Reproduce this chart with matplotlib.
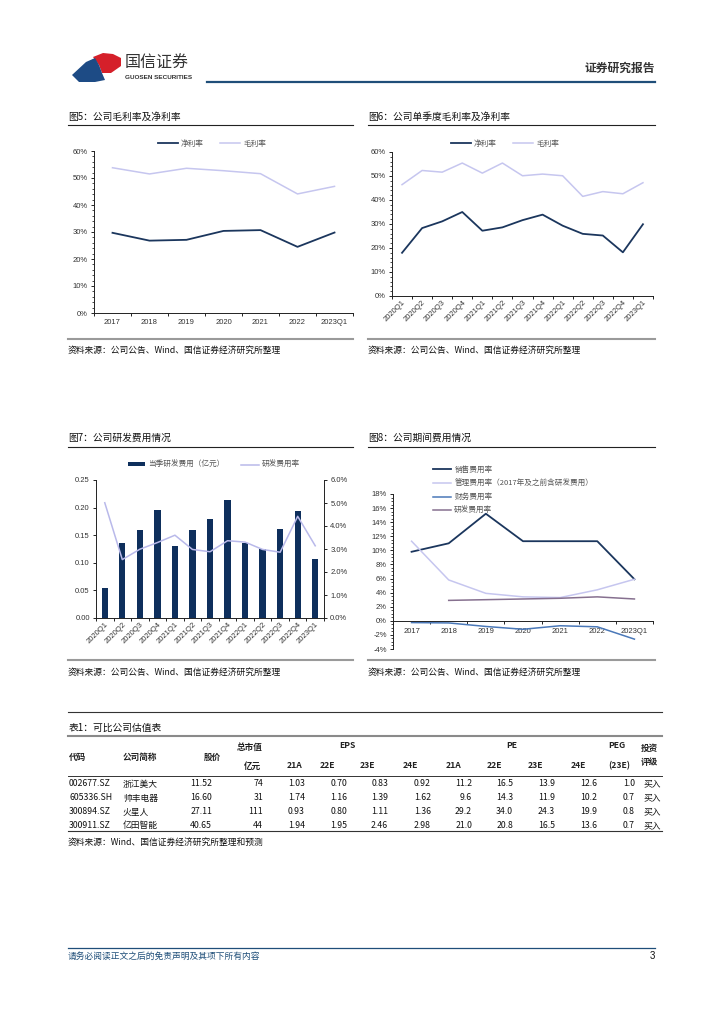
import matplotlib
matplotlib.use('Agg')
import matplotlib.pyplot as plt
from matplotlib.ticker import FuncFormatter, MultipleLocator, FixedLocator
from matplotlib.patches import Polygon
import numpy as np

plt.rcParams['font.family'] = ['Noto Sans CJK SC', 'DejaVu Sans']
plt.rcParams['axes.unicode_minus'] = False

# --- DATA ---
years = ['2017', '2018', '2019', '2020', '2021', '2022', '2023Q1']
net_margin_y = [29.7, 26.8, 27.1, 30.4, 30.7, 24.5, 29.8]
gross_margin_y = [53.8, 51.5, 53.6, 52.7, 51.6, 44.1, 46.9]

quarters = ['2020Q1', '2020Q2', '2020Q3', '2020Q4', '2021Q1', '2021Q2', '2021Q3',
            '2021Q4', '2022Q1', '2022Q2', '2022Q3', '2022Q4', '2023Q1']
net_margin_q = [18.0, 28.3, 31.1, 35.0, 27.2, 28.6, 31.6, 33.9, 29.3, 25.9, 25.2, 18.2, 29.9]
gross_margin_q = [46.4, 52.3, 51.6, 55.4, 51.2, 55.4, 50.1, 50.8, 50.1, 41.5, 43.5, 42.6, 47.2]

rd_expense_q = [0.055, 0.135, 0.159, 0.195, 0.131, 0.160, 0.179, 0.213, 0.136, 0.125, 0.162, 0.194, 0.107]
rd_ratio_q = [5.01, 2.54, 2.99, 3.28, 3.60, 2.98, 2.88, 3.36, 3.30, 2.98, 2.86, 4.42, 3.14]

sales_ratio = [9.8, 11.0, 15.2, 11.3, 11.3, 11.3, 5.9]
admin_ratio = [11.3, 5.8, 3.9, 3.4, 3.3, 4.4, 5.9]
fin_ratio = [-0.25, -0.3, -0.8, -1.2, -0.7, -0.85, -2.6]
rd_ratio_y = [np.nan, 2.9, 3.0, 3.1, 3.2, 3.4, 3.1]

codes = ['002677.SZ', '605336.SH', '300894.SZ', '300911.SZ']
names = ['浙江美大', '帅丰电器', '火星人', '亿田智能']
prices = [11.52, 16.60, 27.11, 40.65]
mkt_cap = [74, 31, 111, 44]
eps = [[1.03, 0.70, 0.83, 0.92],
       [1.74, 1.16, 1.39, 1.62],
       [0.93, 0.80, 1.11, 1.36],
       [1.94, 1.95, 2.46, 2.98]]
pe = [[11.2, 16.5, 13.9, 12.6],
      [9.6, 14.3, 11.9, 10.2],
      [29.2, 34.0, 24.3, 19.9],
      [21.0, 20.8, 16.5, 13.6]]
peg = [1.0, 0.7, 0.8, 0.7]
ratings = ['买入', '买入', '买入', '买入']
eps_cols = ['21A', '22E', '23E', '24E']
pe_cols = ['21A', '22E', '23E', '24E']

# --- STYLE ---
W, H = 724, 1024
NAVY = '#1b365d'
LAV = '#c6c6ef'
BAR = '#0e2f5c'
FINB = '#4a78b8'
RDP = '#86708f'
GRAY_TXT = '#333333'
TICK_FONT = 'Liberation Sans'

fig = plt.figure(figsize=(W / 100, H / 100), dpi=100)
page = fig.add_axes([0, 0, 1, 1], zorder=-5)
page.set_xlim(0, W)
page.set_ylim(H, 0)
page.axis('off')


def ax_at(l, t, r, b):
    return fig.add_axes([l / W, 1 - b / H, (r - l) / W, (b - t) / H])


def fx(x):
    return x / W


def fy(y):
    return 1 - y / H


def base_style(ax, n, minor_y):
    for s in ['top', 'right']:
        ax.spines[s].set_visible(False)
    for s in ['left', 'bottom']:
        ax.spines[s].set_linewidth(0.7)
        ax.spines[s].set_color('#222222')
    ax.set_xlim(-0.5, n - 0.5)
    ax.set_xticks(np.arange(n))
    ax.xaxis.set_minor_locator(FixedLocator(np.arange(n + 1) - 0.5))
    ax.yaxis.set_minor_locator(MultipleLocator(minor_y))
    ax.tick_params(axis='x', which='major', length=0, labelsize=5.5, pad=4,
                   labelfontfamily=TICK_FONT, labelcolor=GRAY_TXT)
    ax.tick_params(axis='x', which='minor', length=2, width=0.6, direction='out')
    ax.tick_params(axis='y', which='major', length=2.5, width=0.6, labelsize=5.5, pad=2,
                   labelfontfamily=TICK_FONT, labelcolor=GRAY_TXT)
    ax.tick_params(axis='y', which='minor', length=1.5, width=0.5)


pct0 = FuncFormatter(lambda v, p: f'{v:.0f}%')
leg_kw = dict(frameon=False, fontsize=5.5, handletextpad=0.4, labelcolor='#555555',
              bbox_transform=fig.transFigure)

# --- Chart 1: annual margins ---
ax1 = ax_at(94, 151, 353, 313)
x1 = np.arange(len(years))
ax1.plot(x1, net_margin_y, color=NAVY, lw=1.3, label='净利率')
ax1.plot(x1, gross_margin_y, color=LAV, lw=1.1, label='毛利率')
base_style(ax1, len(years), 2)
ax1.set_ylim(0, 60)
ax1.yaxis.set_major_locator(MultipleLocator(10))
ax1.yaxis.set_major_formatter(pct0)
ax1.set_xticklabels(years)
ax1.legend(ncol=2, loc='center', bbox_to_anchor=(fx(212), fy(144)),
           handlelength=2.6, columnspacing=2.2, **leg_kw)

# --- Chart 2: quarterly margins ---
ax2 = ax_at(392, 152, 653, 296)
x2 = np.arange(len(quarters))
ax2.plot(x2, net_margin_q, color=NAVY, lw=1.3, label='净利率')
ax2.plot(x2, gross_margin_q, color=LAV, lw=1.1, label='毛利率')
base_style(ax2, len(quarters), 2)
ax2.set_ylim(0, 60)
ax2.yaxis.set_major_locator(MultipleLocator(10))
ax2.yaxis.set_major_formatter(pct0)
ax2.set_xticklabels(quarters, rotation=45, ha='right', rotation_mode='anchor')
ax2.tick_params(axis='x', which='major', pad=2)
ax2.legend(ncol=2, loc='center', bbox_to_anchor=(fx(505), fy(144)),
           handlelength=2.6, columnspacing=2.2, **leg_kw)

# --- Chart 3: R&D expense ---
ax3 = ax_at(96, 480, 324, 618)
x3 = np.arange(len(quarters))
bars = ax3.bar(x3, rd_expense_q, width=0.36, color=BAR, label='当季研发费用（亿元）')
base_style(ax3, len(quarters), 0.05)
ax3.set_ylim(0, 0.25)
ax3.yaxis.set_major_locator(MultipleLocator(0.05))
ax3.yaxis.set_major_formatter(FuncFormatter(lambda v, p: f'{v:.2f}'))
ax3.set_xticklabels(quarters, rotation=45, ha='right', rotation_mode='anchor')
ax3.tick_params(axis='x', which='major', pad=2)
ax3r = ax3.twinx()
ln, = ax3r.plot(x3, rd_ratio_q, color='#b9b9ea', lw=1.1, label='研发费用率')
ax3r.set_ylim(0, 6)
ax3r.yaxis.set_major_locator(MultipleLocator(1))
ax3r.yaxis.set_major_formatter(FuncFormatter(lambda v, p: f'{v:.1f}%'))
for s in ['top', 'left', 'bottom']:
    ax3r.spines[s].set_visible(False)
ax3r.spines['right'].set_linewidth(0.7)
ax3r.spines['right'].set_color('#222222')
ax3r.tick_params(axis='y', length=2.5, width=0.6, labelsize=5.5, pad=2,
                 labelfontfamily=TICK_FONT, labelcolor=GRAY_TXT)
ax3.legend(handles=[bars, ln], ncol=2, loc='center', bbox_to_anchor=(fx(214), fy(465)),
           handlelength=2.3, handleheight=0.5, columnspacing=2.2, **leg_kw)

# --- Chart 4: period expense ratios ---
ax4 = ax_at(393, 494, 653, 649)
x4 = np.arange(len(years))
ax4.plot(x4, sales_ratio, color=NAVY, lw=1.3, label='销售费用率')
ax4.plot(x4, admin_ratio, color=LAV, lw=1.1, label='管理费用率（2017年及之前含研发费用）')
ax4.plot(x4, fin_ratio, color=FINB, lw=1.1, label='财务费用率')
ax4.plot(x4, rd_ratio_y, color=RDP, lw=1.1, label='研发费用率')
base_style(ax4, len(years), 0.5)
ax4.set_ylim(-4, 18)
ax4.spines['bottom'].set_position(('data', 0))
ax4.yaxis.set_major_locator(MultipleLocator(2))
ax4.yaxis.set_major_formatter(pct0)
ax4.set_xticklabels(years)
ax4.tick_params(axis='x', which='major', pad=5)
ax4.legend(ncol=1, loc='upper left', bbox_to_anchor=(fx(426), fy(459)),
           handlelength=2.4, labelspacing=0.75, **leg_kw)

# --- PAGE DECORATION ---
# logo
page.add_patch(Polygon([(93, 57), (103, 53), (113, 54), (121, 58), (121, 66), (111, 73), (102, 73), (99, 65)],
                       closed=True, color='#d5202a', lw=0))
page.add_patch(Polygon([(72, 75), (86, 62), (95, 58), (99, 65), (102, 73), (105, 80), (95, 82), (79, 82)],
                       closed=True, color='#1d4b85', lw=0))
page.text(125, 63, '国信证券', fontsize=11.5, color='#333333', va='center', ha='left')
page.text(125, 77.5, 'GUOSEN SECURITIES', fontsize=4.6, color='#333333', va='center', ha='left',
          fontweight='bold', family='Liberation Sans')
page.plot([207, 655], [82, 82], color='#1f4e79', lw=1.6)
page.text(655, 68, '证券研究报告', fontsize=8.5, color='#333333', ha='right', va='center', fontweight='bold')

# chart titles, rules and sources
for (x0, x1_, yt, yl, ys, ysrc, title) in [
        (68, 353, 117, 125, 339, 350, '图5：公司毛利率及净利率'),
        (368, 655, 117, 125, 339, 350, '图6：公司单季度毛利率及净利率'),
        (68, 353, 438, 447, 660, 672, '图7：公司研发费用情况'),
        (368, 655, 438, 447, 660, 672, '图8：公司期间费用情况')]:
    page.text(x0, yt, title, fontsize=7, color='#111111', ha='left', va='center')
    page.plot([x0, x1_], [yl, yl], color='#222222', lw=0.8)
    page.plot([x0, x1_], [ys, ys], color='#9a9a9a', lw=1.5)
    page.text(x0, ysrc, '资料来源：公司公告、Wind、国信证券经济研究所整理', fontsize=6.3,
              color='#111111', ha='left', va='center')

# table
TL, TR = 68, 662
page.plot([TL, TR], [712, 712], color='#333333', lw=0.8)
page.text(69, 728, '表1：可比公司估值表', fontsize=7, color='#111111', ha='left', va='center')
page.plot([TL, TR], [735.5, 735.5], color='#8a8a8a', lw=1.5)
page.plot([TL, TR], [776, 776], color='#333333', lw=0.7)
page.plot([TL, TR], [831, 831], color='#333333', lw=0.8)

hdr = dict(fontsize=6.2, color='#222222', va='center', fontweight='bold')
page.text(69, 757, '代码', ha='left', **hdr)
page.text(123, 757, '公司简称', ha='left', **hdr)
page.text(212, 757, '股价', ha='center', **hdr)
page.text(250, 747, '总市值', ha='center', **hdr)
page.text(253, 766, '亿元', ha='center', **hdr)
page.text(347, 745, 'EPS', ha='center', **hdr)
page.text(512, 745, 'PE', ha='center', **hdr)
page.text(617, 745, 'PEG', ha='center', **hdr)
page.text(619, 766, '(23E)', ha='center', **hdr)
page.text(649, 748, '投资', ha='center', **hdr)
page.text(649, 762, '评级', ha='center', **hdr)
for lbl, xl in zip(eps_cols + pe_cols, [287, 320, 360, 403, 446, 487, 528, 571]):
    page.text(xl, 766, lbl, ha='left', **hdr)

cell = dict(fontsize=6.3, color='#111111', va='center')
row_y = [784, 798, 812, 825.5]
eps_x = [305, 347, 388, 431]
pe_x = [472, 513, 555, 597]
for i, yr in enumerate(row_y):
    page.text(69, yr, codes[i], ha='left', **cell)
    page.text(123, yr, names[i], ha='left', **cell)
    page.text(212, yr, f'{prices[i]:.2f}', ha='right', **cell)
    page.text(263, yr, f'{mkt_cap[i]}', ha='right', **cell)
    for v, xr in zip(eps[i], eps_x):
        page.text(xr, yr, f'{v:.2f}', ha='right', **cell)
    for v, xr in zip(pe[i], pe_x):
        page.text(xr, yr, f'{v:.1f}', ha='right', **cell)
    page.text(635, yr, f'{peg[i]:.1f}', ha='right', **cell)
    page.text(643, yr, ratings[i], ha='left', **cell)
page.text(68, 842, '资料来源：Wind、国信证券经济研究所整理和预测', fontsize=6.3,
          color='#111111', ha='left', va='center')

# footer
page.plot([68, 655], [948, 948], color='#1f4e79', lw=0.9)
page.text(68, 956, '请务必阅读正文之后的免责声明及其项下所有内容', fontsize=6.3, color='#1f4e79',
          ha='left', va='center', style='italic')
page.text(655, 956, '3', fontsize=7, color='#111111', ha='right', va='center', family='Liberation Sans')

fig.savefig('out.png', dpi=100)
